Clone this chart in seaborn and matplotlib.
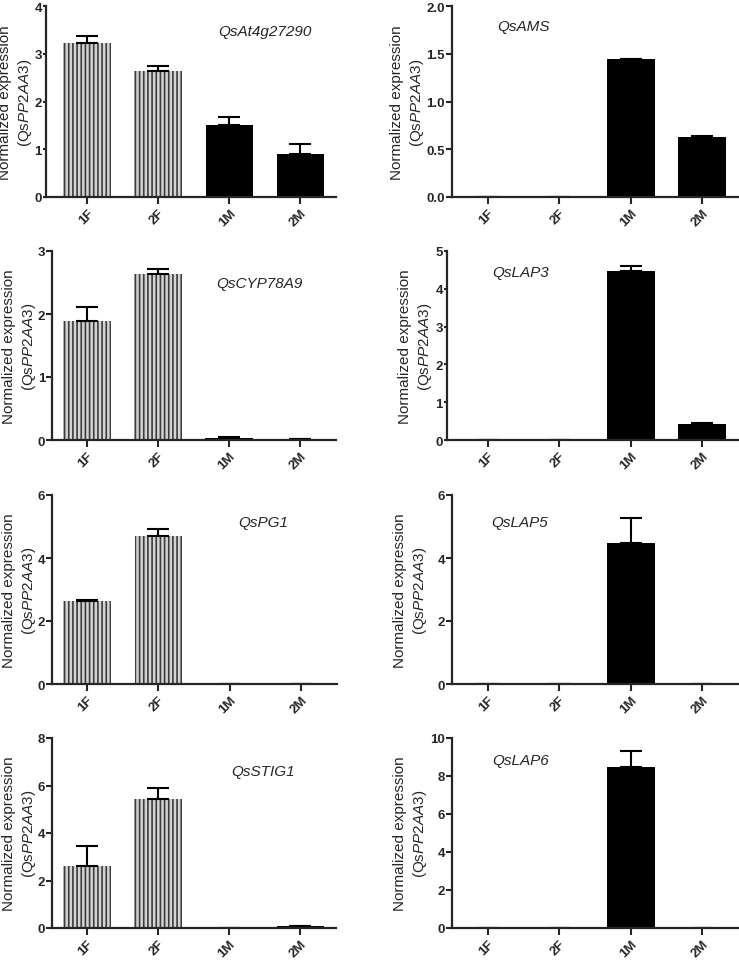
import numpy as np
import pandas as pd
import matplotlib
matplotlib.use("Agg")
import matplotlib.pyplot as plt
import seaborn as sns

sns.set_style("ticks")
plt.rcParams['font.family'] = ['Liberation Sans', 'DejaVu Sans']
plt.rcParams['mathtext.fontset'] = 'custom'
plt.rcParams['mathtext.it'] = 'Liberation Sans:italic'
plt.rcParams['mathtext.rm'] = 'Liberation Sans'
plt.rcParams['hatch.linewidth'] = 1.2

# sample groups
samples = ['1F', '2F', '1M', '2M']

# mean expression and upper error (SE) per gene
genes = ['QsAt4g27290', 'QsAMS', 'QsCYP78A9', 'QsLAP3',
         'QsPG1', 'QsLAP5', 'QsSTIG1', 'QsLAP6']
at4g27290 = [3.22, 2.64, 1.50, 0.91]
at4g27290_err = [0.16, 0.10, 0.17, 0.21]
ams = [0.0, 0.0, 1.44, 0.63]
ams_err = [0.0, 0.0, 0.01, 0.01]
cyp78a9 = [1.89, 2.63, 0.03, 0.01]
cyp78a9_err = [0.22, 0.08, 0.01, 0.005]
lap3 = [0.0, 0.0, 4.47, 0.43]
lap3_err = [0.0, 0.0, 0.12, 0.02]
pg1 = [2.62, 4.71, 0.0, 0.0]
pg1_err = [0.05, 0.22, 0.0, 0.0]
lap5 = [0.0, 0.0, 4.49, 0.0]
lap5_err = [0.0, 0.0, 0.79, 0.0]
stig1 = [2.62, 5.43, 0.0, 0.07]
stig1_err = [0.82, 0.47, 0.0, 0.03]
lap6 = [0.0, 0.0, 8.50, 0.0]
lap6_err = [0.0, 0.0, 0.80, 0.0]

values = [at4g27290, ams, cyp78a9, lap3, pg1, lap5, stig1, lap6]
errors = [at4g27290_err, ams_err, cyp78a9_err, lap3_err,
          pg1_err, lap5_err, stig1_err, lap6_err]
ymax = [4, 2.0, 3, 5, 6, 6, 8, 10]
ystep = [1, 0.5, 1, 1, 2, 2, 2, 2]

W, H = 739, 962
fig = plt.figure(figsize=(W / 100, H / 100), dpi=100)

rows = [(7, 198), (252, 441), (496, 685), (739, 929)]
# (left px, right px, xlim left) per panel
cols = [(46, 336, -0.58), (452, 738, -0.50),
        (52, 336, -0.49), (447, 738, -0.57),
        (52, 337, -0.49), (452, 738, -0.50),
        (52, 336, -0.49), (452, 738, -0.50)]
# right edge of the y label block (px)
ylab_x = [34, 426, 38, 434, 38, 429, 38, 429]
# gene label positions (px)
label_pos = [(265, 32, 'center'), (497, 27, 'left'),
             (259, 284, 'center'), (492, 273, 'left'),
             (263, 523, 'center'), (491, 523, 'left'),
             (263, 772, 'center'), (492, 761, 'left')]

for i in range(8):
    top, bot = rows[i // 2]
    l, r, x0 = cols[i]
    ax = fig.add_axes([l / W, 1 - bot / H, (r - l) / W, (bot - top) / H])
    df = pd.DataFrame({'sample': samples, 'expr': values[i]})
    sns.barplot(data=df, x='sample', y='expr', ax=ax, color='black',
                width=0.67, errorbar=None, saturation=1)
    for j, p in enumerate(ax.patches):
        if j < 2:
            p.set_facecolor('#d4d4d4')
            p.set_edgecolor('#3c3c3c')
            p.set_hatch('||||')
            p.set_linewidth(0)
        else:
            p.set_facecolor('black')
            p.set_edgecolor('black')
            p.set_linewidth(0)
    err = np.array(errors[i])
    ax.errorbar(range(4), values[i], yerr=[np.zeros(4), err],
                fmt='none', ecolor='black', elinewidth=1.5,
                capsize=8, capthick=1.5)
    ax.set_ylim(0, ymax[i])
    ax.set_xlim(x0, 3.5)
    ticks = np.arange(0, ymax[i] + ystep[i] / 2, ystep[i])
    ax.set_yticks(ticks)
    if ystep[i] < 1:
        ax.set_yticklabels([f'{t:.1f}' for t in ticks])
    else:
        ax.set_yticklabels([f'{t:.0f}' for t in ticks])
    ax.set_xticks(range(4))
    ax.set_xticklabels(samples, rotation=45, ha='right',
                       rotation_mode='anchor')
    for lab in ax.get_xticklabels() + ax.get_yticklabels():
        lab.set_fontweight('bold')
        lab.set_fontsize(9.5)
    if i in (0, 3):
        ax.tick_params(axis='y', length=2.5, width=1.5, pad=0.5)
    else:
        ax.tick_params(axis='y', length=4, width=1.5, pad=1)
    ax.tick_params(axis='x', length=5, width=1.5, pad=2)
    for s in ['left', 'bottom']:
        ax.spines[s].set_linewidth(1.6)
    sns.despine(ax=ax)
    ax.set_xlabel('')
    ax.set_ylabel('Normalized expression\n(Qs$\\it{PP2AA3}$)',
                  fontsize=11, linespacing=1.3)
    ax.yaxis.set_label_coords((ylab_x[i] - l) / (r - l), 0.5)
    gx, gy, ha = label_pos[i]
    fig.text(gx / W, 1 - gy / H, genes[i], fontsize=11, style='italic',
             ha=ha, va='center')

fig.savefig('out.png', dpi=100)
